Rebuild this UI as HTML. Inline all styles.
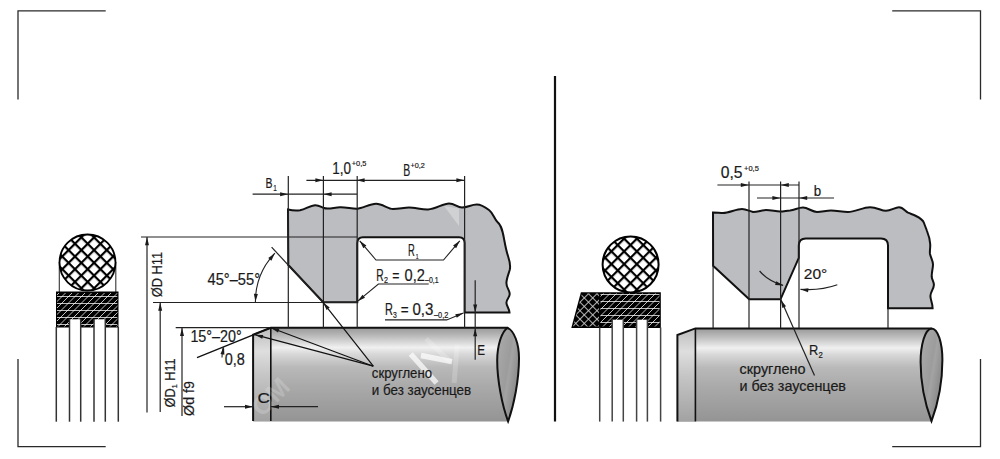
<!DOCTYPE html><html><head><meta charset="utf-8"><style>html,body{margin:0;padding:0;background:#fff;overflow:hidden}svg{display:block}text{font-family:"Liberation Sans",sans-serif;stroke:#1a1a1a;stroke-width:0.2px}</style></head><body>
<svg width="1000" height="459" viewBox="0 0 1000 459">
<defs>
<pattern id="xh" patternUnits="userSpaceOnUse" width="9" height="9" patternTransform="translate(87.7,256.5) rotate(45) translate(-1.1,-1.1)">
<rect width="9" height="9" fill="#fff"/>
<rect x="0" y="0" width="9" height="2.2" fill="#000"/>
<rect x="0" y="0" width="2.2" height="9" fill="#000"/>
</pattern>
<pattern id="xh2" patternUnits="userSpaceOnUse" width="9" height="9" patternTransform="translate(630.5,257.8) rotate(45) translate(-1.1,-1.1)">
<rect width="9" height="9" fill="#fff"/>
<rect x="0" y="0" width="9" height="2.2" fill="#000"/>
<rect x="0" y="0" width="2.2" height="9" fill="#000"/>
</pattern>
<pattern id="xhw" patternUnits="userSpaceOnUse" width="6" height="6" patternTransform="translate(580,293) rotate(45)">
<rect width="6" height="6" fill="#000"/>
<rect x="0" y="0" width="6" height="0.9" fill="#c8c8c8"/>
<rect x="0" y="0" width="0.9" height="6" fill="#c8c8c8"/>
</pattern>
<linearGradient id="shaft" x1="0" y1="0" x2="0" y2="1">
<stop offset="0" stop-color="#9a9a9a"/>
<stop offset="0.04" stop-color="#a8a8a8"/>
<stop offset="0.1" stop-color="#c0c0c0"/>
<stop offset="0.21" stop-color="#f0f0f0"/>
<stop offset="0.28" stop-color="#d8d8d8"/>
<stop offset="0.42" stop-color="#b9b9b9"/>
<stop offset="0.62" stop-color="#aaaaaa"/>
<stop offset="1" stop-color="#949494"/>
</linearGradient>
<linearGradient id="cap" x1="0" y1="0.15" x2="1" y2="0.85">
<stop offset="0" stop-color="#aaaaaa"/>
<stop offset="0.45" stop-color="#9c9c9c"/>
<stop offset="0.52" stop-color="#a3a3a3"/>
<stop offset="1" stop-color="#7c7c7c"/>
</linearGradient>
<linearGradient id="face" x1="0" y1="0" x2="0" y2="1">
<stop offset="0" stop-color="#bdbdbd"/>
<stop offset="0.25" stop-color="#dedede"/>
<stop offset="0.5" stop-color="#c6c6c6"/>
<stop offset="1" stop-color="#a2a2a2"/>
</linearGradient>
<clipPath id="c1"><circle cx="87.5" cy="262.5" r="28"/></clipPath>
<clipPath id="c2"><circle cx="630.6" cy="264.4" r="28"/></clipPath>
<clipPath id="sc1"><rect x="57" y="293" width="60.5" height="33.5"/></clipPath>
<clipPath id="sc2"><path d="M582 293.5 L599 293.5 L599 326.5 L573 326.5 Z"/></clipPath>
<clipPath id="sc3"><rect x="600.5" y="293.5" width="59" height="33"/></clipPath>
</defs>
<path d="M105.7 10.9 H18 V99.4 M892.2 10.9 H980.5 V99.4 M18 359 V446.7 H105.7 M980.5 359 V446.7 H892.2" fill="none" stroke="#2a2a2a" stroke-width="1.3"/>
<line x1="555" y1="76" x2="555" y2="421.6" stroke="#111" stroke-width="2.2"/>
<line x1="59.3" y1="262" x2="59.3" y2="292" stroke="#333" stroke-width="1.1"/>
<line x1="115.8" y1="262" x2="115.8" y2="292" stroke="#333" stroke-width="1.1"/>
<rect x="55" y="230" width="65" height="65" fill="url(#xh)" clip-path="url(#c1)"/>
<circle cx="87.5" cy="262.5" r="28" fill="none" stroke="#000" stroke-width="1.8"/>
<rect x="56" y="291.5" width="62.5" height="36" fill="#000"/>
<g clip-path="url(#sc1)">
<line x1="57" y1="296.5" x2="117.5" y2="296.5" stroke="#ffffff" stroke-width="0.75"/>
<line x1="57" y1="303.5" x2="117.5" y2="303.5" stroke="#ffffff" stroke-width="0.75"/>
<line x1="57" y1="310.5" x2="117.5" y2="310.5" stroke="#ffffff" stroke-width="0.75"/>
<line x1="57" y1="317.5" x2="117.5" y2="317.5" stroke="#ffffff" stroke-width="0.75"/>
<line x1="57" y1="324.5" x2="117.5" y2="324.5" stroke="#ffffff" stroke-width="0.75"/>
<line x1="-2.0" y1="328" x2="34.5" y2="291.5" stroke="#ffffff" stroke-width="0.75"/>
<line x1="4.5" y1="328" x2="41.0" y2="291.5" stroke="#ffffff" stroke-width="0.75"/>
<line x1="11.0" y1="328" x2="47.5" y2="291.5" stroke="#ffffff" stroke-width="0.75"/>
<line x1="17.5" y1="328" x2="54.0" y2="291.5" stroke="#ffffff" stroke-width="0.75"/>
<line x1="24.0" y1="328" x2="60.5" y2="291.5" stroke="#ffffff" stroke-width="0.75"/>
<line x1="30.5" y1="328" x2="67.0" y2="291.5" stroke="#ffffff" stroke-width="0.75"/>
<line x1="37.0" y1="328" x2="73.5" y2="291.5" stroke="#ffffff" stroke-width="0.75"/>
<line x1="43.5" y1="328" x2="80.0" y2="291.5" stroke="#ffffff" stroke-width="0.75"/>
<line x1="50.0" y1="328" x2="86.5" y2="291.5" stroke="#ffffff" stroke-width="0.75"/>
<line x1="56.5" y1="328" x2="93.0" y2="291.5" stroke="#ffffff" stroke-width="0.75"/>
<line x1="63.0" y1="328" x2="99.5" y2="291.5" stroke="#ffffff" stroke-width="0.75"/>
<line x1="69.5" y1="328" x2="106.0" y2="291.5" stroke="#ffffff" stroke-width="0.75"/>
<line x1="76.0" y1="328" x2="112.5" y2="291.5" stroke="#ffffff" stroke-width="0.75"/>
<line x1="82.5" y1="328" x2="119.0" y2="291.5" stroke="#ffffff" stroke-width="0.75"/>
<line x1="89.0" y1="328" x2="125.5" y2="291.5" stroke="#ffffff" stroke-width="0.75"/>
<line x1="95.5" y1="328" x2="132.0" y2="291.5" stroke="#ffffff" stroke-width="0.75"/>
<line x1="102.0" y1="328" x2="138.5" y2="291.5" stroke="#ffffff" stroke-width="0.75"/>
<line x1="108.5" y1="328" x2="145.0" y2="291.5" stroke="#ffffff" stroke-width="0.75"/>
<line x1="115.0" y1="328" x2="151.5" y2="291.5" stroke="#ffffff" stroke-width="0.75"/>
<line x1="121.5" y1="328" x2="158.0" y2="291.5" stroke="#ffffff" stroke-width="0.75"/>
<line x1="128.0" y1="328" x2="164.5" y2="291.5" stroke="#ffffff" stroke-width="0.75"/>
<line x1="134.5" y1="328" x2="171.0" y2="291.5" stroke="#ffffff" stroke-width="0.75"/>
</g>
<rect x="69.6" y="319.3" width="10.9" height="9" fill="#fff"/>
<rect x="94.2" y="319.3" width="11" height="9" fill="#fff"/>
<line x1="56.3" y1="327" x2="56.3" y2="421.7" stroke="#333" stroke-width="1.5"/>
<line x1="69.5" y1="319" x2="69.5" y2="421.7" stroke="#333" stroke-width="1.5"/>
<line x1="80.7" y1="319" x2="80.7" y2="421.7" stroke="#333" stroke-width="1.5"/>
<line x1="94.0" y1="319" x2="94.0" y2="421.7" stroke="#333" stroke-width="1.5"/>
<line x1="105.3" y1="319" x2="105.3" y2="421.7" stroke="#333" stroke-width="1.5"/>
<line x1="118.3" y1="327" x2="118.3" y2="421.7" stroke="#333" stroke-width="1.5"/>
<path d="M288 209.5 C292 210.5 296 210.8 300 210.3 C306 209 310 205.5 315 205.2 C319 205 321 207 324 208 C328 209.5 334 207.5 340 207.2 C346 207 352 209 357 208.8 C363 208 370 204 376 203.8 C382 203.6 388 209 393 209 C399 209 404 207.5 409 207.5 C415 207.5 422 209.8 428 209.5 C436 209 443 203.5 449 203.5 C455 203.5 457 207.5 462 207.5 C468 207.5 471 204.5 476.8 204.5 C481 204.5 485 207 489 210 C493 213 494 218 497 221.5 C500 224 502 227 504 238.6 C505 244 506 250 508 256 C510 262 510.5 267 509.7 270 C508.5 274 506.4 279 506.4 283 C506.4 288 509.7 290 509.7 294 C509.7 298 506.4 299 506.4 302.7 C506.4 306 509.2 308 509.5 312.6 L464.6 312.6 L464.6 243 Q464.6 237.2 459.1 237.2 L363 237.2 Q357.3 237.2 357.3 243.2 L357.3 302.3 L323.2 302.3 L288.3 265 Z" fill="#bcbdc1" stroke="#111" stroke-width="2"/>
<polygon points="444,206 459,208.5 459,226" fill="#fff" fill-opacity="0.3"/>
<path d="M253.1 421.1 L253.1 334.8 L270.8 327.8 L507.7 327.8 C502 331 497.2 345 497.2 360.5 C497.2 380 502 405 508.1 421.5 L253.1 421.5 Z" fill="url(#shaft)"/>
<path d="M253.1 421.1 L253.1 334.8 L270.8 327.8 L270.8 421.1 Z" fill="url(#face)"/>
<path d="M507.7 327.8 C502 331 497.2 345 497.2 360.5 C497.2 380 502 405 508.1 421.3 C514 405 519 380 519 358.3 C519 343 514 331 507.7 327.8 Z" fill="url(#cap)" stroke="#111" stroke-width="2"/>
<path d="M253.1 421.1 L253.1 334.8 L270.8 327.8 L507.7 327.8" fill="none" stroke="#111" stroke-width="2"/>
<line x1="270.8" y1="327.8" x2="270.8" y2="421.1" stroke="#111" stroke-width="1.6"/>
<clipPath id="shc"><path d="M253.1 421.1 L253.1 334.8 L270.8 327.8 L507.7 327.8 C502 331 497.2 345 497.2 360.5 C497.2 380 502 405 508.1 421.5 L253.1 421.5 Z"/></clipPath>
<g clip-path="url(#shc)" fill="none" stroke="#fff" stroke-opacity="0.2" stroke-width="6">
<path d="M426 338.7 L450.3 361.6 M457.2 344.8 L454.1 383" stroke-width="5"/><path d="M410.7 354 L436.6 383 M421 355.5 L452 361.6" stroke-width="5.5" stroke-opacity="0.7"/>
</g>
<text transform="translate(262,418) rotate(-45)" font-size="26" font-weight="bold" fill="#fff" fill-opacity="0.2" style="stroke:none">OM</text>
<line x1="288.3" y1="176" x2="288.3" y2="327.7" stroke="#222" stroke-width="1.2"/>
<line x1="323.4" y1="176" x2="323.4" y2="327.7" stroke="#222" stroke-width="1.2"/>
<line x1="357.2" y1="176" x2="357.2" y2="327.7" stroke="#222" stroke-width="1.2"/>
<line x1="464.6" y1="176" x2="464.6" y2="327.7" stroke="#222" stroke-width="1.2"/>
<line x1="141" y1="237" x2="357" y2="237" stroke="#222" stroke-width="1.2"/>
<line x1="153" y1="302.5" x2="357" y2="302.5" stroke="#222" stroke-width="1.2"/>
<line x1="175.7" y1="327.7" x2="271" y2="327.7" stroke="#222" stroke-width="1.2"/>
<line x1="306.4" y1="180.3" x2="464.5" y2="180.3" stroke="#222" stroke-width="1.2"/>
<polygon points="323.40,180.30 315.40,182.30 315.40,178.30" fill="#1a1a1a"/>
<polygon points="356.60,180.30 364.60,178.30 364.60,182.30" fill="#1a1a1a"/>
<polygon points="464.40,180.30 456.40,182.30 456.40,178.30" fill="#1a1a1a"/>
<line x1="252.6" y1="194.2" x2="357" y2="194.2" stroke="#222" stroke-width="1.2"/>
<polygon points="288.10,194.20 280.10,196.20 280.10,192.20" fill="#1a1a1a"/>
<polygon points="323.60,194.20 331.60,192.20 331.60,196.20" fill="#1a1a1a"/>
<line x1="147" y1="237" x2="147" y2="412.5" stroke="#222" stroke-width="1.2"/>
<polygon points="147.00,237.20 149.00,245.20 145.00,245.20" fill="#1a1a1a"/>
<line x1="160.2" y1="302.5" x2="160.2" y2="412" stroke="#222" stroke-width="1.2"/>
<polygon points="160.20,302.70 162.20,310.70 158.20,310.70" fill="#1a1a1a"/>
<line x1="182" y1="327.7" x2="182" y2="416" stroke="#222" stroke-width="1.2"/>
<polygon points="182.00,327.90 184.00,335.90 180.00,335.90" fill="#1a1a1a"/>
<line x1="271.6" y1="247.2" x2="323" y2="302.3" stroke="#222" stroke-width="1.2"/>
<path d="M274.89 253.18 A70.9 70.9 0 0 0 255.40 302" fill="none" stroke="#222" stroke-width="1.1"/>
<polygon points="274.89,253.18 271.38,260.64 268.28,258.11" fill="#1a1a1a"/>
<polygon points="255.40,301.80 253.90,293.69 257.89,293.94" fill="#1a1a1a"/>
<line x1="475.2" y1="280.3" x2="475.2" y2="359.7" stroke="#222" stroke-width="1.2"/>
<polygon points="475.20,312.50 473.20,304.50 477.20,304.50" fill="#1a1a1a"/>
<polygon points="475.20,328.20 477.20,336.20 473.20,336.20" fill="#1a1a1a"/>
<polyline points="359.7,240.8 376,260 443.5,260 459.8,240.8" fill="none" stroke="#222" stroke-width="1.1"/>
<polygon points="359.70,240.80 366.40,245.60 363.35,248.19" fill="#1a1a1a"/>
<polygon points="459.80,240.80 456.15,248.19 453.10,245.60" fill="#1a1a1a"/>
<polyline points="428.7,284 378.4,284 357.5,301.4" fill="none" stroke="#222" stroke-width="1.1"/>
<polygon points="357.60,301.30 362.47,294.65 365.03,297.72" fill="#1a1a1a"/>
<polyline points="385,319.9 446.7,319.9 463.4,312.9" fill="none" stroke="#222" stroke-width="1.1"/>
<polygon points="463.40,312.90 456.80,317.84 455.25,314.15" fill="#1a1a1a"/>
<line x1="197" y1="357.6" x2="271" y2="327.6" stroke="#111" stroke-width="1.3"/>
<path d="M222 357.6 Q222 352 223.1 347" fill="none" stroke="#222" stroke-width="1.1"/>
<polygon points="224.00,346.50 224.39,354.74 220.47,353.95" fill="#1a1a1a"/>
<line x1="224" y1="406.7" x2="253" y2="406.7" stroke="#222" stroke-width="1.2"/>
<polygon points="253.00,406.70 245.00,408.70 245.00,404.70" fill="#1a1a1a"/>
<line x1="270.8" y1="406.7" x2="318" y2="406.7" stroke="#222" stroke-width="1.2"/>
<polygon points="271.00,406.70 279.00,404.70 279.00,408.70" fill="#1a1a1a"/>
<line x1="373.3" y1="366.2" x2="270.8" y2="327.8" stroke="#111" stroke-width="1.2"/>
<line x1="373.3" y1="366.2" x2="254.6" y2="334.7" stroke="#111" stroke-width="1.2"/>
<line x1="373.3" y1="366.2" x2="323" y2="302.3" stroke="#111" stroke-width="1.2"/>
<polygon points="271.20,327.90 279.39,328.84 277.99,332.58" fill="#1a1a1a"/>
<polygon points="255.00,334.80 263.25,334.92 262.22,338.79" fill="#1a1a1a"/>
<polygon points="323.20,302.50 329.72,307.55 326.57,310.02" fill="#1a1a1a"/>
<text x="265.6" y="187.6" font-size="15" fill="#1a1a1a" textLength="7" lengthAdjust="spacingAndGlyphs" >B</text>
<text x="273.3" y="190.8" font-size="9.5" fill="#1a1a1a" textLength="3.6" lengthAdjust="spacingAndGlyphs" >1</text>
<text x="332.2" y="174" font-size="17" fill="#1a1a1a" textLength="18.8" lengthAdjust="spacingAndGlyphs" >1,0</text>
<text x="351.8" y="166.4" font-size="8" fill="#1a1a1a" textLength="14.6" lengthAdjust="spacingAndGlyphs" >+0,5</text>
<text x="403.2" y="175.6" font-size="16.5" fill="#1a1a1a" textLength="7" lengthAdjust="spacingAndGlyphs" >B</text>
<text x="410.6" y="168.2" font-size="8" fill="#1a1a1a" textLength="14.2" lengthAdjust="spacingAndGlyphs" >+0,2</text>
<text x="207.5" y="284.8" font-size="16" fill="#1a1a1a" textLength="52.5" lengthAdjust="spacingAndGlyphs" >45°–55°</text>
<text x="408" y="255.5" font-size="16.5" fill="#1a1a1a" textLength="6.8" lengthAdjust="spacingAndGlyphs" >R</text>
<text x="415.8" y="258.8" font-size="8" fill="#1a1a1a" textLength="2.8" lengthAdjust="spacingAndGlyphs" >1</text>
<text x="376.3" y="280.5" font-size="16" fill="#1a1a1a" textLength="7.4" lengthAdjust="spacingAndGlyphs" >R</text>
<text x="384" y="283.2" font-size="9" fill="#1a1a1a" textLength="4" lengthAdjust="spacingAndGlyphs" >2</text>
<text x="392.2" y="280.5" font-size="16" fill="#1a1a1a" textLength="7.2" lengthAdjust="spacingAndGlyphs" >=</text>
<text x="404.6" y="280.5" font-size="16" fill="#1a1a1a" textLength="20.3" lengthAdjust="spacingAndGlyphs" >0,2</text>
<text x="425" y="283.2" font-size="8.5" fill="#1a1a1a" textLength="13.6" lengthAdjust="spacingAndGlyphs" >–0,1</text>
<text x="385" y="315" font-size="16" fill="#1a1a1a" textLength="7.9" lengthAdjust="spacingAndGlyphs" >R</text>
<text x="393" y="317.7" font-size="9" fill="#1a1a1a" textLength="3.8" lengthAdjust="spacingAndGlyphs" >3</text>
<text x="400.7" y="315" font-size="16" fill="#1a1a1a" textLength="7.9" lengthAdjust="spacingAndGlyphs" >=</text>
<text x="412.5" y="315" font-size="16" fill="#1a1a1a" textLength="20.9" lengthAdjust="spacingAndGlyphs" >0,3</text>
<text x="434" y="318" font-size="8.5" fill="#1a1a1a" textLength="14.4" lengthAdjust="spacingAndGlyphs" >–0,2</text>
<text x="477.2" y="355" font-size="15" fill="#1a1a1a" textLength="7.8" lengthAdjust="spacingAndGlyphs" >E</text>
<text x="190.4" y="342.3" font-size="16.5" fill="#1a1a1a" textLength="51.3" lengthAdjust="spacingAndGlyphs" >15°–20°</text>
<text x="224.8" y="365.2" font-size="16" fill="#1a1a1a" textLength="20.1" lengthAdjust="spacingAndGlyphs" >0,8</text>
<text x="257.6" y="402.8" font-size="15" fill="#1a1a1a" textLength="12.4" lengthAdjust="spacingAndGlyphs" >C</text>
<text x="371.8" y="378.2" font-size="14" fill="#1a1a1a" textLength="60.2" lengthAdjust="spacingAndGlyphs" >скруглено</text>
<text x="371.8" y="395.2" font-size="14" fill="#1a1a1a" textLength="99.4" lengthAdjust="spacingAndGlyphs" >и без заусенцев</text>
<text transform="translate(161.5,297.2) rotate(-90)" font-size="14" fill="#1a1a1a" textLength="45.4" lengthAdjust="spacingAndGlyphs">ØD H11</text>
<text transform="translate(174.5,407.5) rotate(-90)" font-size="14" fill="#1a1a1a" textLength="49.2" lengthAdjust="spacingAndGlyphs">ØD<tspan font-size="8" dy="2">1</tspan><tspan dy="-2"> H11</tspan></text>
<text transform="translate(193.7,415.9) rotate(-90)" font-size="14" fill="#1a1a1a" textLength="34.9" lengthAdjust="spacingAndGlyphs">Ød f9</text>
<rect x="598" y="232" width="65" height="65" fill="url(#xh2)" clip-path="url(#c2)"/>
<circle cx="630.6" cy="264.4" r="28" fill="none" stroke="#000" stroke-width="2"/>
<path d="M580.9 292.3 L660.8 292.3 L660.8 327.9 L571.3 327.9 Z" fill="#000"/>
<rect x="570" y="290" width="30" height="40" fill="url(#xhw)" clip-path="url(#sc2)"/>
<g clip-path="url(#sc3)">
<line x1="600" y1="294.5" x2="660" y2="294.5" stroke="#ffffff" stroke-width="0.75"/>
<line x1="600" y1="301.5" x2="660" y2="301.5" stroke="#ffffff" stroke-width="0.75"/>
<line x1="600" y1="308.5" x2="660" y2="308.5" stroke="#ffffff" stroke-width="0.75"/>
<line x1="600" y1="315.5" x2="660" y2="315.5" stroke="#ffffff" stroke-width="0.75"/>
<line x1="600" y1="322.5" x2="660" y2="322.5" stroke="#ffffff" stroke-width="0.75"/>
<line x1="543.0" y1="328" x2="579.5" y2="291.5" stroke="#ffffff" stroke-width="0.75"/>
<line x1="549.5" y1="328" x2="586.0" y2="291.5" stroke="#ffffff" stroke-width="0.75"/>
<line x1="556.0" y1="328" x2="592.5" y2="291.5" stroke="#ffffff" stroke-width="0.75"/>
<line x1="562.5" y1="328" x2="599.0" y2="291.5" stroke="#ffffff" stroke-width="0.75"/>
<line x1="569.0" y1="328" x2="605.5" y2="291.5" stroke="#ffffff" stroke-width="0.75"/>
<line x1="575.5" y1="328" x2="612.0" y2="291.5" stroke="#ffffff" stroke-width="0.75"/>
<line x1="582.0" y1="328" x2="618.5" y2="291.5" stroke="#ffffff" stroke-width="0.75"/>
<line x1="588.5" y1="328" x2="625.0" y2="291.5" stroke="#ffffff" stroke-width="0.75"/>
<line x1="595.0" y1="328" x2="631.5" y2="291.5" stroke="#ffffff" stroke-width="0.75"/>
<line x1="601.5" y1="328" x2="638.0" y2="291.5" stroke="#ffffff" stroke-width="0.75"/>
<line x1="608.0" y1="328" x2="644.5" y2="291.5" stroke="#ffffff" stroke-width="0.75"/>
<line x1="614.5" y1="328" x2="651.0" y2="291.5" stroke="#ffffff" stroke-width="0.75"/>
<line x1="621.0" y1="328" x2="657.5" y2="291.5" stroke="#ffffff" stroke-width="0.75"/>
<line x1="627.5" y1="328" x2="664.0" y2="291.5" stroke="#ffffff" stroke-width="0.75"/>
<line x1="634.0" y1="328" x2="670.5" y2="291.5" stroke="#ffffff" stroke-width="0.75"/>
<line x1="640.5" y1="328" x2="677.0" y2="291.5" stroke="#ffffff" stroke-width="0.75"/>
<line x1="647.0" y1="328" x2="683.5" y2="291.5" stroke="#ffffff" stroke-width="0.75"/>
<line x1="653.5" y1="328" x2="690.0" y2="291.5" stroke="#ffffff" stroke-width="0.75"/>
<line x1="660.0" y1="328" x2="696.5" y2="291.5" stroke="#ffffff" stroke-width="0.75"/>
<line x1="666.5" y1="328" x2="703.0" y2="291.5" stroke="#ffffff" stroke-width="0.75"/>
<line x1="673.0" y1="328" x2="709.5" y2="291.5" stroke="#ffffff" stroke-width="0.75"/>
<line x1="679.5" y1="328" x2="716.0" y2="291.5" stroke="#ffffff" stroke-width="0.75"/>
</g>
<rect x="612.3" y="319.7" width="10.8" height="9" fill="#fff"/>
<rect x="636.7" y="319.7" width="10.5" height="9" fill="#fff"/>
<line x1="599.7" y1="327.5" x2="599.7" y2="421.6" stroke="#444" stroke-width="1.5"/>
<line x1="612.2" y1="319.5" x2="612.2" y2="421.6" stroke="#444" stroke-width="1.5"/>
<line x1="623.3" y1="319.5" x2="623.3" y2="421.6" stroke="#444" stroke-width="1.5"/>
<line x1="636.6" y1="319.5" x2="636.6" y2="421.6" stroke="#444" stroke-width="1.5"/>
<line x1="647.4" y1="319.5" x2="647.4" y2="421.6" stroke="#444" stroke-width="1.5"/>
<line x1="660.6" y1="327.5" x2="660.6" y2="421.6" stroke="#444" stroke-width="1.5"/>
<path d="M713 212.5 C717 212.5 720 213 723 213 C729 213 736 209 742 209 C746 209 749 211 753 212 C758 212 762 210 766 210 C771 210 776 211.5 780 211.5 C784 211.5 787 210.5 790 210.5 C795 210 798 207.5 803 207.5 C808 207.5 812 212 817 212 C822 212 826 210.5 831 210.5 C837 210.5 842 212 848 212 C855 212 863 207.2 870 207.2 C877 207.2 881 210.8 886 210.8 C891 210.8 895 207.3 899 207.3 C903 207.3 905 211 908 212.7 C911 214 913 214.5 916 216 C920 218 923 220 924 223 C925 226 926 228 927 231 C929 236 930 240 930.2 244 C930.5 248 929.5 251 930 254 C931 258 933 261 933 264.4 C933 268 931.5 273 931.7 276.7 C932 280 934 282 933.9 285 C933.8 289 930.4 292 930.4 296 C930.4 300 932.6 303 932.6 308.2 L888 308.2 L888 245.5 Q888 238.5 881 238.5 L805.8 238.5 Q798.8 238.5 798.8 245.5 L798.8 257.9 L780.5 299.3 L749.2 299.3 L713.1 265.8 Z" fill="#bcbdc1" stroke="#111" stroke-width="2"/>
<path d="M677.4 421.4 L677.4 335 L695.4 328.4 L931.5 328.4 C925 329 920.6 345 920.6 362 C920.6 382 925.5 405 931.5 421.6 L677.4 421.6 Z" fill="url(#shaft)"/>
<path d="M677.4 421.4 L677.4 335 L695.4 328.4 L695.4 421.4 Z" fill="url(#face)"/>
<path d="M931.5 328.4 C925 329 920.6 345 920.6 362 C920.6 382 925.5 405 931.5 421.2 C937.5 405 942.4 382 942.4 360 C942.4 343 938 328.5 931.5 328.4 Z" fill="url(#cap)" stroke="#111" stroke-width="2"/>
<path d="M677.4 421.4 L677.4 335 L695.4 328.4 L931.5 328.4" fill="none" stroke="#111" stroke-width="2"/>
<line x1="695.4" y1="328.4" x2="695.4" y2="421.4" stroke="#111" stroke-width="1.6"/>
<line x1="749" y1="181.5" x2="749" y2="328" stroke="#222" stroke-width="1.2"/>
<line x1="780.6" y1="181.5" x2="780.6" y2="328" stroke="#222" stroke-width="1.2"/>
<line x1="799" y1="181.5" x2="799" y2="328" stroke="#222" stroke-width="1.2"/>
<line x1="713.1" y1="265.8" x2="713.1" y2="328" stroke="#222" stroke-width="1.2"/>
<line x1="888" y1="308.2" x2="888" y2="328" stroke="#222" stroke-width="1.2"/>
<line x1="717.4" y1="185" x2="799" y2="185" stroke="#222" stroke-width="1.2"/>
<polygon points="748.80,185.00 740.80,187.00 740.80,183.00" fill="#1a1a1a"/>
<polygon points="780.80,185.00 788.80,183.00 788.80,187.00" fill="#1a1a1a"/>
<line x1="757" y1="198" x2="834" y2="198" stroke="#222" stroke-width="1.2"/>
<polygon points="780.40,198.00 772.40,200.00 772.40,196.00" fill="#1a1a1a"/>
<polygon points="799.20,198.00 807.20,196.00 807.20,200.00" fill="#1a1a1a"/>
<path d="M837.3 284.8 Q820 291 800.5 289.3" fill="none" stroke="#222" stroke-width="1.2"/>
<polygon points="800.30,289.30 808.47,288.20 808.03,292.17" fill="#1a1a1a"/>
<path d="M759.6 271 Q768 281 783.1 285.4" fill="none" stroke="#222" stroke-width="1.2"/>
<polygon points="783.30,285.50 775.07,285.04 776.25,281.22" fill="#1a1a1a"/>
<line x1="780.8" y1="299.5" x2="814.5" y2="375.5" stroke="#222" stroke-width="1.2"/>
<polygon points="780.80,299.80 786.01,306.19 782.39,307.89" fill="#1a1a1a"/>
<text x="720.7" y="178" font-size="17" fill="#1a1a1a" textLength="21.8" lengthAdjust="spacingAndGlyphs" >0,5</text>
<text x="744" y="170.5" font-size="8" fill="#1a1a1a" textLength="14.8" lengthAdjust="spacingAndGlyphs" >+0,5</text>
<text x="813.8" y="195.5" font-size="15" fill="#1a1a1a" textLength="7.4" lengthAdjust="spacingAndGlyphs" >b</text>
<text x="803.8" y="279.3" font-size="15.5" fill="#1a1a1a" textLength="23.5" lengthAdjust="spacingAndGlyphs" >20°</text>
<text x="809.1" y="355.4" font-size="15" fill="#1a1a1a" textLength="9.3" lengthAdjust="spacingAndGlyphs" >R</text>
<text x="818.6" y="358.4" font-size="9" fill="#1a1a1a" textLength="4.3" lengthAdjust="spacingAndGlyphs" >2</text>
<text x="739.5" y="374" font-size="14" fill="#1a1a1a" textLength="66" lengthAdjust="spacingAndGlyphs" >скруглено</text>
<text x="739.5" y="391.1" font-size="14" fill="#1a1a1a" textLength="106.5" lengthAdjust="spacingAndGlyphs" >и без заусенцев</text>
</svg></body></html>
